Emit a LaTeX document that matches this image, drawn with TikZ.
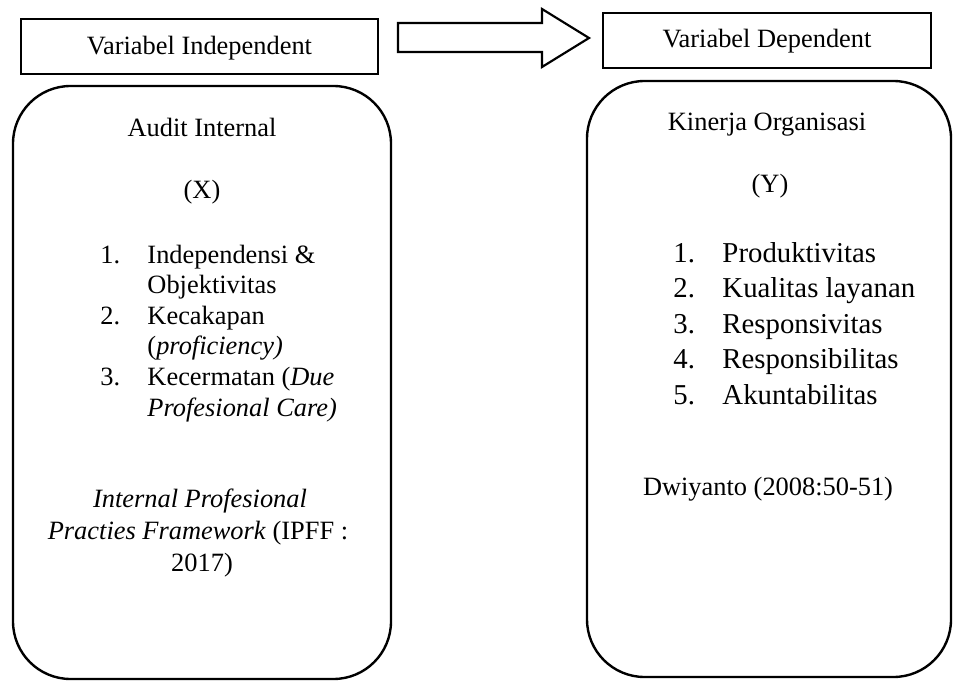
\documentclass[tikz,border=0pt]{standalone}
\usepackage{fontspec}
\setmainfont{Liberation Serif}

\begin{document}
\begin{tikzpicture}[x=0.41667pt,y=-0.41667pt]

  \tikzset{
    headbox/.style={line width=1.1pt},
    varbox/.style={line width=1pt, rounded corners=24pt},
    txt/.style={font=\fontsize{11}{13}\selectfont, inner sep=0pt, anchor=base},
    item/.style={txt, anchor=base west},
    bigitem/.style={item, font=\fontsize{12}{14}\selectfont},
  }
  \useasboundingbox (0,0) rectangle (953,681);

  % header boxes
  \draw[headbox] (21,19) rectangle (378,74);
  \node[txt] (indep) at (199.5,55) {Variabel Independent};
  \draw[headbox] (603,13) rectangle (931,68);
  \node[txt] (dep) at (767,48) {Variabel Dependent};

  % block arrow
  \draw[line width=0.9pt, line join=miter] (398,23) -- (542,23) -- (542,9)
    -- (589,38) -- (542,67) -- (542,52) -- (398,52) -- cycle;

  % left box (X)
  \draw[varbox] (13,86) rectangle (391,679);
  \node[txt] (audit) at (202,137) {Audit Internal};
  \node[txt] (x) at (202,199) {(X)};

  \node[item] (n1) at (100,263) {1.};
  \node[item] (x1) at (147,263) {Independensi \&};
  \node[item] (x1b) at (147,293.6) {Objektivitas};
  \node[item] (n2) at (100,324.2) {2.};
  \node[item] (x2) at (147,324.2) {Kecakapan};
  \node[item] (x2b) at (147,354.8) {(\textit{proficiency)}};
  \node[item] (n3) at (100,385.4) {3.};
  \node[item] (x3) at (147,385.4) {Kecermatan (\textit{Due}};
  \node[item] (x3b) at (147,416) {\textit{Profesional Care)}};

  \node[txt] (ippf1) at (200,507) {\textit{Internal Profesional}};
  \node[txt] (ippf2) at (198,539) {\textit{Practies Framework} (IPFF :};
  \node[txt] (ippf3) at (202,571) {2017)};

  % right box (Y)
  \draw[varbox] (587,81) rectangle (951,677);
  \node[txt] (kinerja) at (767,131) {Kinerja Organisasi};
  \node[txt] (y) at (770,193) {(Y)};

  \node[bigitem] (m1) at (673,262) {1.};
  \node[bigitem] (y1) at (722,262) {Produktivitas};
  \node[bigitem] (m2) at (673,297.5) {2.};
  \node[bigitem] (y2) at (722,297.5) {Kualitas layanan};
  \node[bigitem] (m3) at (673,333) {3.};
  \node[bigitem] (y3) at (722,333) {Responsivitas};
  \node[bigitem] (m4) at (673,368.5) {4.};
  \node[bigitem] (y4) at (722,368.5) {Responsibilitas};
  \node[bigitem] (m5) at (673,404) {5.};
  \node[bigitem] (y5) at (722,404) {Akuntabilitas};

  \node[txt] (dwi) at (768,495) {Dwiyanto (2008:50-51)};

\end{tikzpicture}
\end{document}
